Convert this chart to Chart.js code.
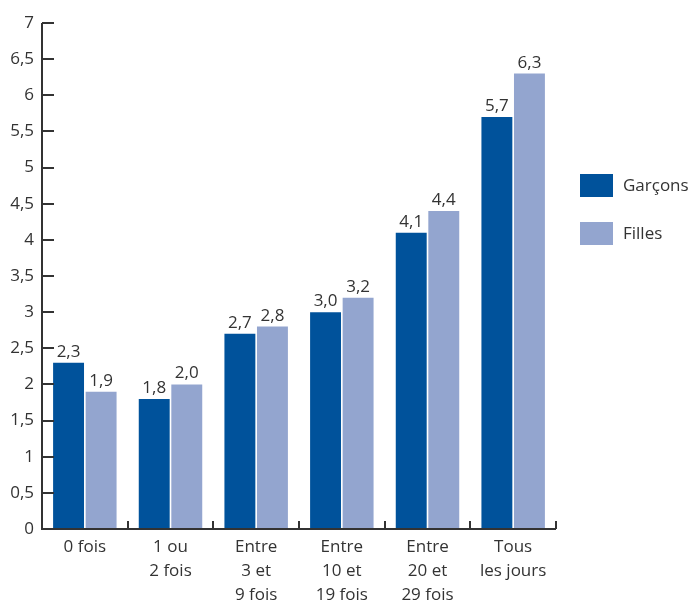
<!DOCTYPE html>
<html lang="fr">
<head>
<meta charset="utf-8">
<title>Garçons et filles</title>
<script src="https://cdn.jsdelivr.net/npm/chart.js@4/dist/chart.umd.min.js"></script>
<style>
  html, body { margin: 0; padding: 0; background: #ffffff; }
  #wrap { width: 694px; height: 605px; }
</style>
</head>
<body>
<div id="wrap"><canvas id="chart" width="694" height="605"></canvas></div>
<script>
const categories = [
  ['0 fois'],
  ['1 ou', '2 fois'],
  ['Entre', '3 et', '9 fois'],
  ['Entre', '10 et', '19 fois'],
  ['Entre', '20 et', '29 fois'],
  ['Tous', 'les jours']
];
const seriesNames = ['Garçons', 'Filles'];
const garcons = [2.3, 1.8, 2.7, 3.0, 4.1, 5.7];
const filles = [1.9, 2.0, 2.8, 3.2, 4.4, 6.3];
const seriesColors = ['#00529b', '#93a5cf'];
const yMin = 0, yMax = 7, yStep = 0.5;

const FONT = '"Open Sans", "Noto Sans", sans-serif';
const SIZE = 17;
const INK = '#333333';
const fmt = (v, d) => v.toFixed(d).replace('.', ',');
const fmtTick = v => String(v).replace('.', ',');

// Axis lines with inward ticks
const axesPlugin = {
  id: 'axesInward',
  afterDraw(chart) {
    const { ctx, chartArea: a, scales: { x, y } } = chart;
    ctx.save();
    ctx.strokeStyle = INK;
    ctx.lineWidth = 2;
    ctx.beginPath();
    ctx.moveTo(a.left, a.top);
    ctx.lineTo(a.left, a.bottom);
    ctx.lineTo(a.right, a.bottom);
    ctx.stroke();
    ctx.beginPath();
    y.ticks.forEach(t => {
      const py = Math.round(y.getPixelForValue(t.value));
      ctx.moveTo(a.left, py);
      ctx.lineTo(a.left + 12, py);
    });
    const n = x.ticks.length;
    const w = (a.right - a.left) / n;
    for (let i = 1; i <= n; i++) {
      const px = Math.round(a.left + i * w);
      ctx.moveTo(px, a.bottom);
      ctx.lineTo(px, a.bottom - 8);
    }
    ctx.stroke();
    ctx.restore();
  }
};

// Value labels above each bar
const valuePlugin = {
  id: 'valueLabels',
  afterDatasetsDraw(chart) {
    const { ctx } = chart;
    ctx.save();
    ctx.fillStyle = INK;
    ctx.font = SIZE + 'px ' + FONT;
    ctx.textAlign = 'center';
    ctx.textBaseline = 'alphabetic';
    chart.data.datasets.forEach((ds, di) => {
      chart.getDatasetMeta(di).data.forEach((bar, i) => {
        ctx.fillText(fmt(ds.data[i], 1), bar.x, bar.y - 6);
      });
    });
    ctx.restore();
  }
};

// Legend block on the right
const legendPlugin = {
  id: 'sideLegend',
  afterDraw(chart) {
    const { ctx } = chart;
    ctx.save();
    ctx.font = SIZE + 'px ' + FONT;
    ctx.textBaseline = 'middle';
    ctx.textAlign = 'left';
    chart.data.datasets.forEach((ds, i) => {
      const top = 174 + i * 48;
      ctx.fillStyle = ds.backgroundColor;
      ctx.fillRect(580, top, 33, 23);
      ctx.fillStyle = INK;
      ctx.fillText(ds.label, 623, top + 12);
    });
    ctx.restore();
  }
};

new Chart(document.getElementById('chart'), {
  type: 'bar',
  data: {
    labels: categories,
    datasets: [
      { label: seriesNames[0], data: garcons, backgroundColor: seriesColors[0] },
      { label: seriesNames[1], data: filles, backgroundColor: seriesColors[1] }
    ]
  },
  options: {
    responsive: false,
    animation: false,
    devicePixelRatio: 1,
    layout: { padding: { top: 23, right: 138, left: 0, bottom: 0 } },
    datasets: { bar: { categoryPercentage: 0.76, barPercentage: 0.95 } },
    plugins: { legend: { display: false }, tooltip: { enabled: false } },
    scales: {
      x: {
        grid: { display: false, drawTicks: false },
        border: { display: false },
        ticks: {
          color: INK,
          font: { family: FONT, size: SIZE, lineHeight: 1.42 },
          padding: 6,
          maxRotation: 0,
          autoSkip: false
        },
        afterFit(s) { s.height = 76; }
      },
      y: {
        min: yMin,
        max: yMax,
        grid: { display: false, drawTicks: false },
        border: { display: false },
        ticks: {
          stepSize: yStep,
          color: INK,
          font: { family: FONT, size: SIZE },
          padding: 8,
          callback: v => fmtTick(v)
        },
        afterFit(s) { s.width = 42; }
      }
    }
  },
  plugins: [axesPlugin, valuePlugin, legendPlugin]
});
</script>
</body>
</html>
